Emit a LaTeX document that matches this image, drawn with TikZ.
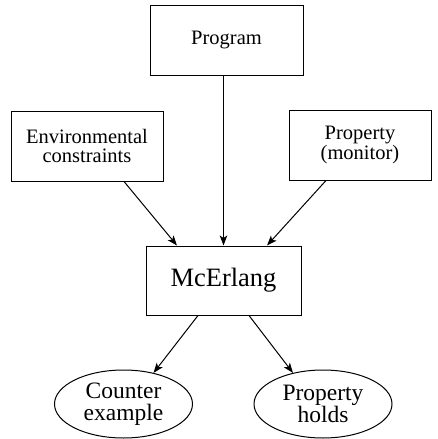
\documentclass[tikz,border=0pt]{standalone}
\usepackage{fontspec}
\setmainfont{Liberation Serif}
\newfontfamily\tms{Liberation Serif}
\usetikzlibrary{arrows.meta,calc,shapes.geometric}
\begin{document}
\begin{tikzpicture}[x=1pt,y=-1pt,line width=1pt,
  boxnode/.style={draw,rectangle,inner sep=0pt,align=center,font=\tms\fontsize{20.5}{19.5}\selectfont},
  ovalnode/.style={draw,ellipse,inner sep=0pt,minimum width=138pt,minimum height=68pt,align=center,font=\tms\fontsize{23.5}{22}\selectfont},
  arr/.style={-{Stealth[length=10pt,width=7.5pt,inset=2.5pt]}}]
\useasboundingbox (0,0) rectangle (438,439);
\node[boxnode,minimum width=153pt,minimum height=70pt] (prog) at (226.5,40) {Program};
\node[boxnode,minimum width=152pt,minimum height=70pt] (env) at (87,146) {Environmental\\constraints};
\node[boxnode,minimum width=142pt,minimum height=70pt] (prop) at (360,145) {Property\\(monitor)};
\node[draw,rectangle,inner sep=0pt,minimum width=155pt,minimum height=69pt,font=\tms\fontsize{26.5}{26}\selectfont] (mc) at (223.5,280.5) {McErlang};
\node[ovalnode] (cnt) at (123.5,404) {Counter\\example};
\node[ovalnode] (ph) at (323,404) {Property\\holds};
\draw[arr] (mc.north |- prog.south) -- (mc.north);
\draw[arr] ($(env.south)+(37,0)$) -- ($(mc.north)+(-46.5,0)$);
\draw[arr] ($(prop.south)+(-34,0)$) -- ($(mc.north)+(43.5,0)$);
\draw[arr] ($(mc.south)+(-25.5,0)$) -- (cnt.46);
\draw[arr] ($(mc.south)+(25.5,0)$) -- (ph.134);
\end{tikzpicture}
\end{document}
